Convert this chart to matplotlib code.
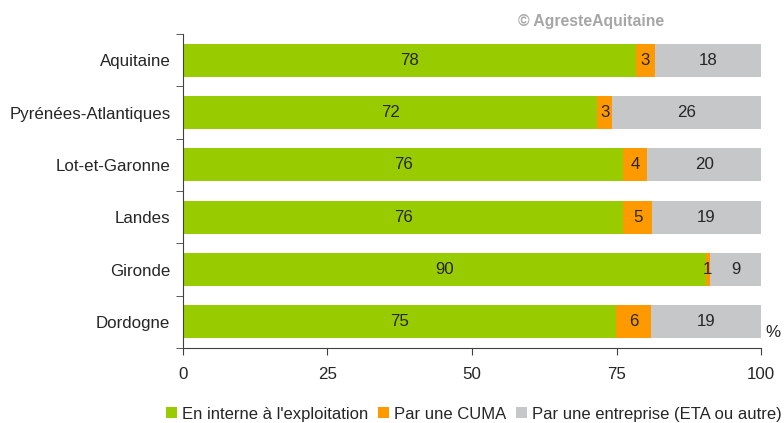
import matplotlib.pyplot as plt
import numpy as np

plt.rcParams['font.family'] = ['Liberation Sans', 'DejaVu Sans']

# Values (share of each mode, %)
departements = ['Aquitaine', 'Pyrénées-Atlantiques', 'Lot-et-Garonne', 'Landes', 'Gironde', 'Dordogne']
interne = [78.3, 71.7, 76.2, 76.2, 90.4, 74.9]
cuma = [3.4, 2.6, 4.1, 4.9, 0.8, 6.1]
entreprise = [18.3, 25.7, 19.7, 18.9, 8.8, 19.0]

series = [
    ("En interne à l'exploitation", interne, '#99cc00'),
    ('Par une CUMA', cuma, '#ff9900'),
    ('Par une entreprise (ETA ou autre)', entreprise, '#c6c7c9'),
]

fs = 12.2
txt = '#262626'

fig = plt.figure(figsize=(7.84, 4.23), dpi=100)
ax = fig.add_axes([0.2334, 0.1773, 0.7373, 0.7423])

y = np.arange(len(departements))[::-1]
left = np.zeros(len(departements))
for name, vals, color in series:
    vals = np.array(vals)
    ax.barh(y, vals, left=left, height=0.63, color=color, label=name)
    for yi, l, v in zip(y, left, vals):
        ax.text(l + v / 2, yi, f'{round(v):d}', ha='center', va='center',
                fontsize=fs, color=txt)
    left = left + vals

ax.set_xlim(0, 100)
ax.set_ylim(-0.5, len(departements) - 0.5)
ax.set_xticks([0, 25, 50, 75, 100])
ax.set_yticks(y)
ax.set_yticklabels(departements)
ax.set_yticks(np.arange(-0.5, len(departements)), minor=True)
ax.tick_params(axis='y', which='major', length=0, pad=9, labelsize=fs, labelcolor=txt)
ax.tick_params(axis='y', which='minor', length=5, color='#404040', direction='out')
ax.tick_params(axis='x', length=5, color='#404040', pad=9, labelsize=fs, labelcolor=txt)
for s in ['top', 'right']:
    ax.spines[s].set_visible(False)
for s in ['left', 'bottom']:
    ax.spines[s].set_color('#404040')

ax.text(1.008, 0.025, '%', transform=ax.transAxes, fontsize=fs, color=txt,
        ha='left', va='bottom')

fig.text(0.754, 0.95, '© AgresteAquitaine', fontsize=11.3, fontweight='bold',
         color='#a6a6a6', ha='center', va='center')

fig.legend(loc='center left', bbox_to_anchor=(0.212, 0.021), ncol=3, frameon=False,
           fontsize=12, handlelength=0.65, handleheight=0.65, handletextpad=0.3,
           columnspacing=0.6, labelcolor=txt, borderpad=0, borderaxespad=0)

fig.savefig('out.png', dpi=100)
